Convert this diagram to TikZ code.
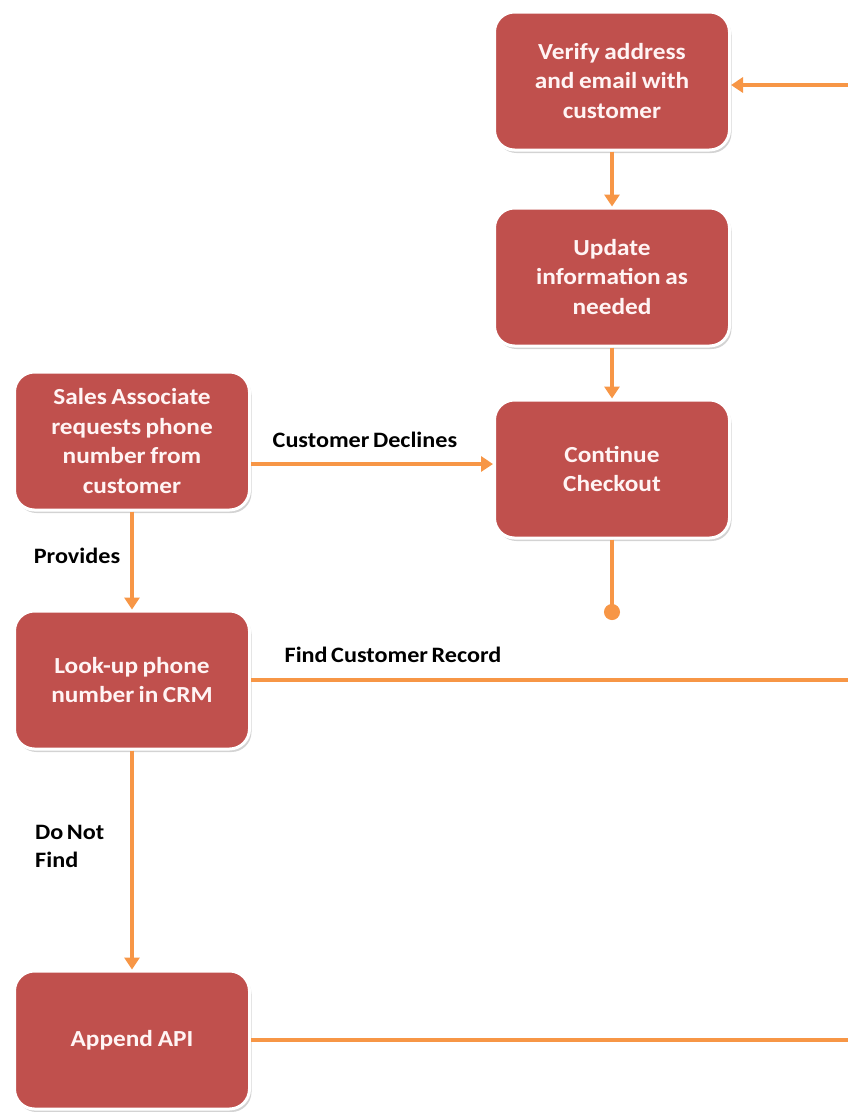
\documentclass[tikz,border=0pt]{standalone}
\usepackage{fontspec}
\setmainfont{Carlito}
\newfontfamily\diafont[FakeStretch=1.1]{Carlito}
\usetikzlibrary{arrows.meta,shadows}
\definecolor{boxred}{HTML}{C0504D}
\definecolor{lineorange}{HTML}{F79646}
\definecolor{boxtext}{HTML}{FFF4F4}
\newcommand{\tightsp}{\spaceskip=0.16em plus 0.05em\relax}
\begin{document}
\begin{tikzpicture}[x=1pt,y=-1pt,
  box/.style={draw=white,line width=3pt,fill=boxred,rounded corners=20pt,
    minimum width=235pt,minimum height=138pt,text width=220pt,align=center,
    text=boxtext,font=\diafont\bfseries\fontsize{23}{29.5}\selectfont,
    execute at begin node=\tightsp,
    drop shadow={opacity=0.35,shadow xshift=2pt,shadow yshift=-3pt}},
  conn/.style={draw=lineorange,line width=4.5pt},
  arr/.style={conn,-{Triangle[width=15pt,length=12pt]}},
  dotend/.style={conn,-{Circle[length=16pt]}},
  lbl/.style={font=\diafont\bfseries\fontsize{22}{28}\selectfont,
    execute at begin node=\tightsp,text=black,inner sep=0pt}]
\useasboundingbox (0,0) rectangle (848,1112);
\node[box] (V) at (612,81) {Verify address\\and email with\\customer};
\node[box] (U) at (612,277) {Update\\information as\\needed};
\node[box] (C) at (612,469) {Continue\\Checkout};
\node[box] (S) at (132,441) {Sales Associate\\requests phone\\number from\\customer};
\node[box] (L) at (132,680) {Look-up phone\\number in CRM};
\node[box] (A) at (132,1040) {Append API};
\coordinate (r1) at (848,85);
\coordinate (r2) at (848,680);
\coordinate (r3) at (848,1040);
\coordinate (dot) at (612,620);
\draw[arr] (r1) -- (V.east |- r1);
\draw[arr] (V.south) -- (U.north);
\draw[arr] (U.south) -- (C.north);
\draw[arr] (S.east |- 0,464) -- (C.west |- 0,464);
\draw[dotend] (C.south) -- (dot);
\draw[arr] (S.south) -- (L.north);
\draw[conn] (L.east) -- (r2);
\draw[arr] (L.south) -- (A.north);
\draw[conn] (A.east) -- (r3);
\node[lbl] (t1) at (365,440) {Customer Declines};
\node[lbl] (t2) at (77,556) {Provides};
\node[lbl] (t3) at (393,655) {Find Customer Record};
\node[lbl,anchor=west,align=left] (t4) at (35,846) {Do Not\\Find};
\end{tikzpicture}
\end{document}
